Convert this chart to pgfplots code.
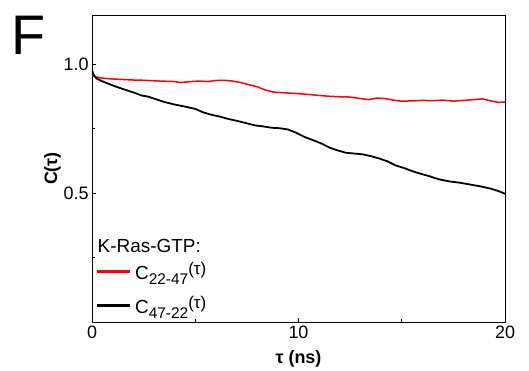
\documentclass[border=0pt]{standalone}
\usepackage{pgfplots}
\pgfplotsset{compat=1.18}
\usepackage{fontspec}
\setmainfont{Liberation Sans}
\newcommand{\sub}[1]{\raisebox{-5bp}{\fontsize{15.5}{15.5}\selectfont #1}}
\newcommand{\tauarg}{\raisebox{5bp}{\fontsize{17}{17}\selectfont (τ)}}
\newcommand{\lstrut}{\rule[-5bp]{0pt}{19bp}}
\begin{document}
\begin{tikzpicture}
\useasboundingbox (-92bp,-49bp) rectangle (437bp,322bp);
\begin{axis}[
  at={(0,0)}, anchor=south west,
  scale only axis, width=413bp, height=307bp,
  xmin=0, xmax=20, ymin=0, ymax=1.19,
  xtick={0,10,20}, minor xtick={5,15},
  ytick={0.5,1.0}, minor ytick={0.25,0.75},
  yticklabel style={/pgf/number format/fixed,/pgf/number format/fixed zerofill,/pgf/number format/precision=1},
  /pgf/number format/assume math mode=true,
  tick align=inside,
  major tick length=4bp, minor tick length=3bp,
  tick style={black, line width=0.6pt},
  axis line style={line width=0.8pt},
  ticklabel style={font=\fontsize{18}{18}\selectfont},
  xtick pos=bottom, ytick pos=left,
  xlabel={\textbf{τ (ns)}},
  ylabel={\textbf{C(τ)}},
  xlabel style={font=\fontsize{18}{18}\selectfont, at={(axis description cs:0.5,-0.1336)}, anchor=base},
  ylabel style={font=\fontsize{18}{18}\selectfont, at={(axis description cs:-0.0847,0.5)}, anchor=base},
  legend style={draw=none, fill=none, at={(axis description cs:0.012,0.0163)}, anchor=south west,
    font=\fontsize{19}{19}\selectfont, row sep=11bp, inner sep=0pt},
  legend cell align=left,
  legend image code/.code={\path[#1, fill, draw=none] (0bp,-1.3bp) rectangle (33bp,1.3bp);},
]
\addlegendimage{red}
\addlegendentry{\lstrut\hspace{3bp}C\sub{22-47}\tauarg}
\addlegendimage{black}
\addlegendentry{\lstrut\hspace{3bp}C\sub{47-22}\tauarg}
\addplot[red, line width=1.5pt, forget plot] coordinates {
(0,0.960) (0.1,0.952) (0.4,0.946) (1.0,0.942) (1.5,0.940) (2.0,0.938) (2.5,0.937) (3.0,0.935) (3.6,0.933) (4.0,0.932) (4.3,0.928) (4.8,0.932) (5.2,0.934) (5.6,0.932) (6.0,0.936) (6.4,0.937) (6.8,0.934) (7.2,0.928) (7.6,0.920) (8.0,0.912) (8.4,0.899) (8.8,0.891) (9.2,0.889) (9.6,0.887) (10.0,0.885) (10.5,0.882) (11.0,0.878) (11.5,0.875) (12.0,0.873) (12.5,0.872) (13.0,0.866) (13.4,0.862) (13.8,0.868) (14.2,0.866) (14.6,0.860) (15.0,0.856) (15.5,0.857) (16.0,0.859) (16.5,0.858) (17.0,0.860) (17.5,0.856) (18.0,0.859) (18.5,0.862) (18.9,0.865) (19.3,0.857) (19.7,0.851) (20.0,0.853)
};
\addplot[black, line width=1.8pt, forget plot] coordinates {
(0,0.980) (0.05,0.962) (0.2,0.945) (0.5,0.933) (1.0,0.917) (1.5,0.903) (2.0,0.890) (2.4,0.878) (2.7,0.874) (3.0,0.866) (3.5,0.853) (4.0,0.843) (4.5,0.835) (5.0,0.826) (5.4,0.812) (5.8,0.803) (6.2,0.796) (6.6,0.787) (7.0,0.780) (7.5,0.770) (7.9,0.762) (8.3,0.758) (8.7,0.753) (9.1,0.751) (9.5,0.746) (9.9,0.733) (10.3,0.717) (10.7,0.705) (11.1,0.692) (11.5,0.676) (11.9,0.665) (12.3,0.656) (12.7,0.653) (13.1,0.650) (13.5,0.643) (13.9,0.634) (14.3,0.623) (14.7,0.607) (15.1,0.597) (15.5,0.585) (15.9,0.575) (16.3,0.566) (16.8,0.553) (17.3,0.545) (17.8,0.540) (18.3,0.533) (18.8,0.526) (19.3,0.517) (19.7,0.507) (20.0,0.497)
};
\node[anchor=base west, inner sep=0pt, font=\fontsize{19}{19}\selectfont] at (rel axis cs:0.0133,0.2248) {K-Ras-GTP:};
\end{axis}
\node[anchor=base west, inner sep=0pt, font=\fontsize{56}{56}\selectfont] at (-81bp,267bp) {F};
\end{tikzpicture}
\end{document}
